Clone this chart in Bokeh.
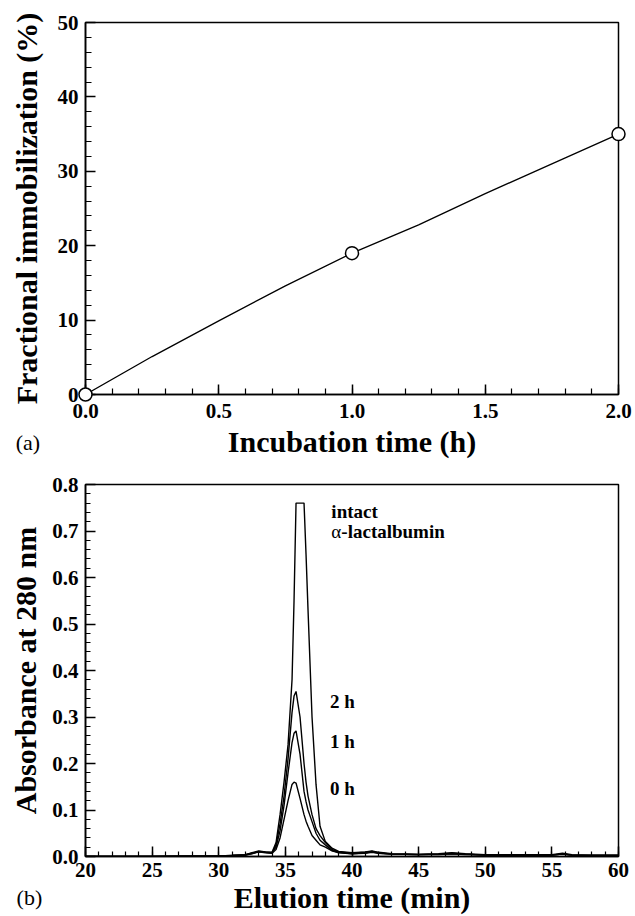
from bokeh.plotting import figure
from bokeh.models import Range1d, SingleIntervalTicker, PrintfTickFormatter
from bokeh.layouts import column
from bokeh.core.properties import value
from bokeh.embed import file_html
from bokeh.resources import INLINE

# ---------------- data: panel (a) ----------------
time_h = [0.0, 1.0, 2.0]
immobilization = [0.0, 19.0, 35.0]
# fitted curve
curve_time_h = [0.0, 0.25, 0.5, 0.75, 1.0, 1.25, 1.5, 1.75, 2.0]
curve_immob = [0.0, 5.1, 9.9, 14.6, 19.0, 22.8, 27.0, 31.0, 35.0]

# ---------------- data: panel (b) ----------------
elution_min = [20, 25, 30, 31, 32, 32.5, 33, 33.5, 34, 34.3, 34.6, 34.9, 35.2, 35.5,
               35.65, 35.8, 36.1, 36.4, 36.55, 36.7, 37.0, 37.3, 37.6, 38.0, 38.5, 39,
               40, 41, 41.5, 42, 43, 45, 46.5, 47.5, 48.5, 50, 52, 55, 55.8, 56.5, 58, 60]
abs_intact = [0.0, 0.0, 0.001, 0.002, 0.004, 0.008, 0.012, 0.010, 0.009, 0.030, 0.090, 0.160,
              0.240, 0.380, 0.550, 0.760, 0.760, 0.760, 0.650, 0.530, 0.300, 0.155, 0.065,
              0.032, 0.018, 0.011, 0.008, 0.010, 0.012, 0.009, 0.006, 0.005, 0.006, 0.008,
              0.006, 0.004, 0.004, 0.004, 0.007, 0.004, 0.003, 0.003]
abs_2h = [0.0, 0.0, 0.001, 0.002, 0.004, 0.007, 0.011, 0.009, 0.008, 0.025, 0.070, 0.130,
          0.210, 0.310, 0.345, 0.355, 0.300, 0.200, 0.160, 0.130, 0.090, 0.060, 0.045,
          0.030, 0.015, 0.010, 0.007, 0.009, 0.011, 0.008, 0.005, 0.004, 0.005, 0.007,
          0.005, 0.003, 0.003, 0.003, 0.006, 0.003, 0.002, 0.002]
abs_1h = [0.0, 0.0, 0.001, 0.002, 0.003, 0.007, 0.010, 0.009, 0.008, 0.020, 0.055, 0.110,
          0.180, 0.245, 0.265, 0.270, 0.220, 0.140, 0.118, 0.100, 0.075, 0.050, 0.035,
          0.025, 0.013, 0.009, 0.006, 0.008, 0.010, 0.007, 0.005, 0.004, 0.005, 0.006,
          0.005, 0.003, 0.003, 0.003, 0.005, 0.003, 0.002, 0.002]
abs_0h = [0.0, 0.0, 0.001, 0.002, 0.003, 0.006, 0.010, 0.008, 0.007, 0.015, 0.040, 0.080,
          0.120, 0.155, 0.160, 0.158, 0.125, 0.090, 0.076, 0.065, 0.045, 0.035, 0.025,
          0.020, 0.012, 0.008, 0.006, 0.007, 0.009, 0.007, 0.005, 0.004, 0.004, 0.006,
          0.004, 0.003, 0.003, 0.003, 0.005, 0.003, 0.002, 0.002]

peak_labels = ["2 h", "1 h", "0 h"]
peak_label_y = [0.333, 0.247, 0.146]

SERIF = "Liberation Serif"


def style_axes(p, major_in, minor_in):
    p.grid.visible = False
    p.outline_line_color = "black"
    p.outline_line_width = 1.5
    p.background_fill_color = "white"
    p.border_fill_color = "white"
    for ax in (p.xaxis[0], p.yaxis[0]):
        ax.axis_line_width = 1.6
        ax.axis_line_color = "black"
        ax.major_tick_in = major_in
        ax.major_tick_out = 0
        ax.minor_tick_in = minor_in
        ax.minor_tick_out = 0
        ax.major_tick_line_width = 1.5
        ax.minor_tick_line_width = 1.2
        ax.major_tick_line_color = "black"
        ax.minor_tick_line_color = "black"
        ax.major_label_text_font = SERIF
        ax.major_label_text_font_style = "bold"
        ax.major_label_text_font_size = "21px"
        ax.major_label_text_color = "black"
        ax.axis_label_text_font = SERIF
        ax.axis_label_text_font_style = "bold"
        ax.axis_label_text_font_size = "30px"
        ax.axis_label_text_color = "black"


# ---------------- panel (a) ----------------
p1 = figure(width=635, height=463, x_range=Range1d(0, 2), y_range=Range1d(0, 50),
            output_backend="svg", toolbar_location=None,
            min_border_left=85, min_border_right=16, min_border_top=22, min_border_bottom=69)
style_axes(p1, 10, 6)
p1.xaxis.ticker = SingleIntervalTicker(interval=0.5, num_minor_ticks=5)
p1.yaxis.ticker = SingleIntervalTicker(interval=10, num_minor_ticks=5)
p1.xaxis.formatter = PrintfTickFormatter(format="%.1f")
p1.xaxis.axis_label = "Incubation time (h)"
p1.yaxis.axis_label = "Fractional immobilization (%)"
p1.xaxis.major_label_standoff = 9
p1.xaxis.axis_label_standoff = 4
p1.yaxis.major_label_standoff = 7
p1.yaxis.axis_label_standoff = 12

p1.line(curve_time_h, curve_immob, line_color="black", line_width=1.3)
pts = p1.scatter(time_h, immobilization, size=13, fill_color="white", line_color="black",
                 line_width=1.5)
pts.level = "overlay"
lab_a = p1.text(x=[-0.262], y=[-6.45], text=["(a)"], text_font=value(SERIF),
                text_font_size="22px", text_color="black", text_baseline="alphabetic")
lab_a.level = "overlay"

# ---------------- panel (b) ----------------
p2 = figure(width=635, height=453, x_range=Range1d(20, 60), y_range=Range1d(0, 0.8),
            output_backend="svg", toolbar_location=None,
            min_border_left=84, min_border_right=17, min_border_top=21, min_border_bottom=59)
style_axes(p2, 10, 5)
p2.xaxis.ticker = SingleIntervalTicker(interval=5, num_minor_ticks=5)
p2.yaxis.ticker = SingleIntervalTicker(interval=0.1, num_minor_ticks=5)
p2.yaxis.formatter = PrintfTickFormatter(format="%.1f")
p2.xaxis.axis_label = "Elution time (min)"
p2.yaxis.axis_label = "Absorbance at 280 nm"
p2.xaxis.major_label_standoff = 6
p2.xaxis.axis_label_standoff = 1
p2.yaxis.major_label_standoff = 7
p2.yaxis.axis_label_standoff = 7

for ys in (abs_0h, abs_1h, abs_2h, abs_intact):
    p2.line(elution_min, ys, line_color="black", line_width=1.4)

p2.text(x=[38.45], y=[0.743], text=["intact"], text_font=value(SERIF),
        text_font_style="bold", text_font_size="19px", text_color="black",
        text_baseline="alphabetic")
p2.text(x=[38.45], y=[0.700], text=["\u03b1"], text_font=value(SERIF),
        text_font_size="19px", text_color="black", text_baseline="alphabetic")
p2.text(x=[39.2], y=[0.700], text=["-lactalbumin"], text_font=value(SERIF),
        text_font_style="bold", text_font_size="19px", text_color="black",
        text_baseline="alphabetic")
p2.text(x=[38.35] * len(peak_labels), y=peak_label_y, text=peak_labels,
        text_font=value(SERIF), text_font_style="bold", text_font_size="19px",
        text_color="black", text_baseline="alphabetic")
lab_b = p2.text(x=[14.83], y=[-0.088], text=["(b)"], text_font=value(SERIF),
                text_font_size="22px", text_color="black", text_baseline="alphabetic")
lab_b.level = "overlay"

layout = column(p1, p2, spacing=0)
open("out.html", "w").write(file_html(layout, INLINE))
